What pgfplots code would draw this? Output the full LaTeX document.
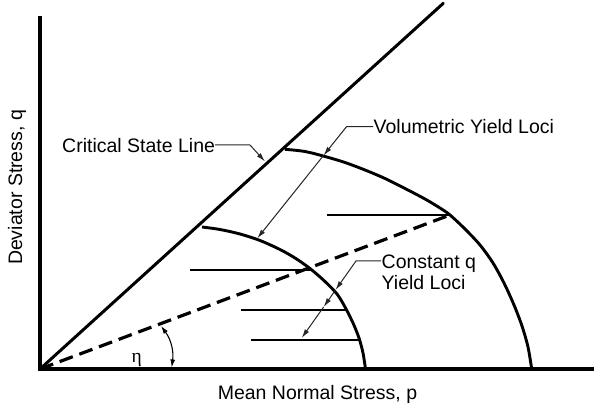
\documentclass[border=0pt]{standalone}
\usepackage{pgfplots}
\pgfplotsset{compat=1.18}
\usetikzlibrary{arrows.meta}
\usepackage{fontspec}
\setmainfont{Liberation Sans}
\newfontfamily\seriffont{Liberation Serif}
\begin{document}
\fontsize{19.5}{23}\selectfont
\begin{tikzpicture}[
  lead/.style={black!85, line width=1pt},
  arr/.style={lead, -{Latex[length=9pt,width=5pt]}},
]
\begin{axis}[
  x=1pt, y=1pt,
  xmin=0, xmax=554, ymin=0, ymax=351,
  axis lines=left,
  axis line style={-, line width=3.3pt, black, line cap=rect},
  ticks=none,
  clip=false,
]
% Critical state line
\addplot[black, line width=3pt, line cap=round] coordinates {(0,0) (403.3,365.7)};
% small volumetric yield locus
\addplot[black, line width=2.9pt, smooth, tension=0.5] coordinates {
 (162,142) (180,139.5) (200,135) (220,128.5) (240,119.5) (255,111) (270,100.5)
 (285,87.5) (297,75) (305,62) (313,46) (319,31) (323,16) (325.5,0)};
% large volumetric yield locus
\addplot[black, line width=2.9pt, smooth, tension=0.5] coordinates {
 (245,219.7) (265,217.5) (285,212.5) (305,206.5) (325,199) (345,190.5) (365,180.5)
 (385,170) (400,161) (410,154) (425,140) (440,124) (453,106) (464,86) (474,64)
 (482,43) (488,22) (491.7,0)};
% stress ratio line
\addplot[black, line width=3.2pt, dash pattern=on 14pt off 7pt] coordinates {(0,0) (410,154)};
% constant q yield loci
\addplot[black, line width=2.5pt] coordinates {(287,154) (410,154)};
\addplot[black, line width=2.5pt] coordinates {(150,99) (272,99)};
\addplot[black, line width=2.5pt] coordinates {(201,59) (306.5,59)};
\addplot[black, line width=2.5pt] coordinates {(211,29) (319.5,29)};
% annotations
\node[anchor=base west, inner sep=0pt] at (axis cs:22,216) {Critical State Line};
\draw[arr] (axis cs:175,224) -- (axis cs:210,224) -- (axis cs:225,207.5);
\node[anchor=base west, inner sep=0pt] at (axis cs:333.5,235.5) {Volumetric Yield Loci};
\draw[arr] (axis cs:333,242.3) -- (axis cs:306.5,242.3) -- (axis cs:283.5,213.5);
\draw[arr] (axis cs:283.5,213.5) -- (axis cs:217.3,130.7);
\node[anchor=base west, inner sep=0pt] at (axis cs:341.5,100.7) {Constant q};
\node[anchor=base west, inner sep=0pt] at (axis cs:341.5,79.7) {Yield Loci};
\draw[arr] (axis cs:341,108) -- (axis cs:316,108) -- (axis cs:295.5,79);
\draw[arr] (axis cs:295.5,79) -- (axis cs:283.6,62);
\draw[arr] (axis cs:283.6,62) -- (axis cs:261.7,31);
% eta
\draw[black, line width=1.1pt, {Latex[length=8pt,width=5pt]}-{Latex[length=8pt,width=5pt]}]
  (axis cs:131.7,1.5) to[bend right=22] (axis cs:121,43);
\node[anchor=base, inner sep=0pt] at (axis cs:96.7,6) {\seriffont η};
% axis titles
\node[anchor=base] at (axis cs:277.5,-31) {Mean Normal Stress, p};
\node[anchor=base, rotate=90] at (axis cs:-18,181.5) {Deviator Stress, q};
% bounding box corners
\coordinate (bl) at (axis cs:-40,-45);
\coordinate (tr) at (axis cs:554,369);
\end{axis}
\pgfresetboundingbox
\path[use as bounding box] (bl) rectangle (tr);
\end{tikzpicture}
\end{document}
